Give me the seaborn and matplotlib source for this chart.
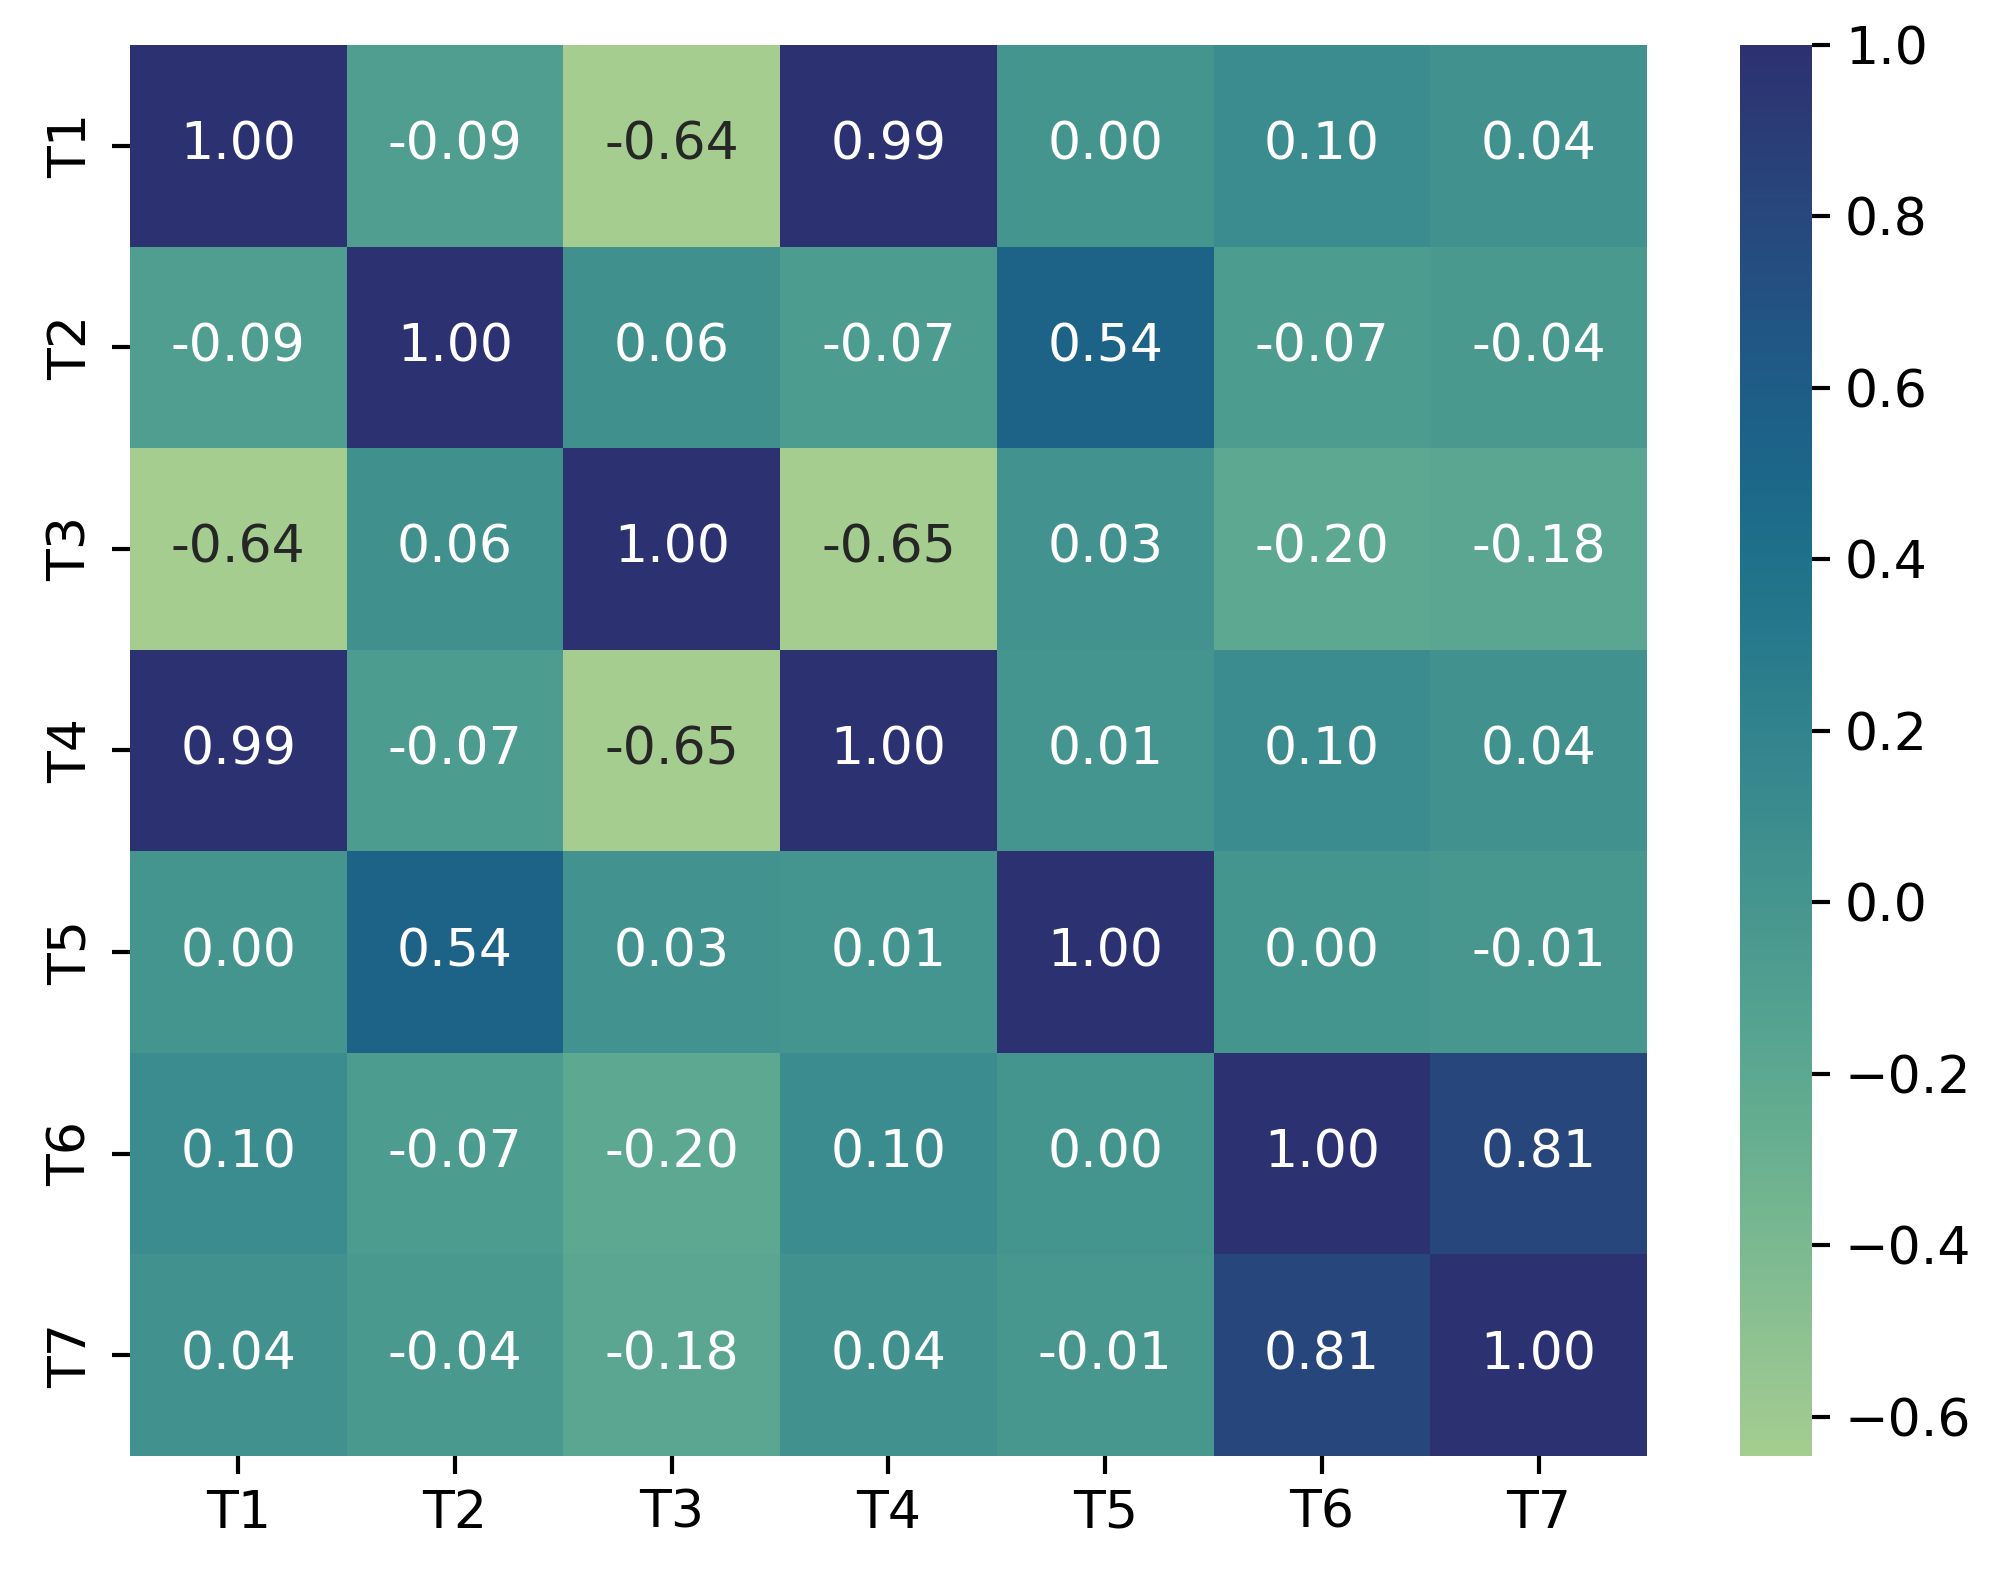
import matplotlib
matplotlib.use("Agg")
import matplotlib.pyplot as plt
import seaborn as sns
import pandas as pd

labels = ["T1", "T2", "T3", "T4", "T5", "T6", "T7"]
row_t1 = [1.00, -0.09, -0.64, 0.99, 0.00, 0.10, 0.04]
row_t2 = [-0.09, 1.00, 0.06, -0.07, 0.54, -0.07, -0.04]
row_t3 = [-0.64, 0.06, 1.00, -0.646, 0.03, -0.20, -0.18]
row_t4 = [0.99, -0.07, -0.646, 1.00, 0.01, 0.10, 0.04]
row_t5 = [0.00, 0.54, 0.03, 0.01, 1.00, 0.00, -0.01]
row_t6 = [0.10, -0.07, -0.20, 0.10, 0.00, 1.00, 0.81]
row_t7 = [0.04, -0.04, -0.18, 0.04, -0.01, 0.81, 1.00]

corr = pd.DataFrame([row_t1, row_t2, row_t3, row_t4, row_t5, row_t6, row_t7],
                    index=labels, columns=labels)

fs = 12.5
plt.rcParams['font.size'] = fs
plt.rcParams['xtick.major.size'] = 4.4
plt.rcParams['ytick.major.size'] = 4.4
plt.rcParams['xtick.major.width'] = 1.0
plt.rcParams['ytick.major.width'] = 1.0

W, H = 2007, 1586
fig = plt.figure(figsize=(W / 300, H / 300), dpi=300)
ax = fig.add_axes([130 / W, 1 - 1456 / H, (1647 - 130) / W, (1456 - 45) / H])
cax = fig.add_axes([1740 / W, 1 - 1456 / H, (1812 - 1740) / W, (1456 - 45) / H])

sns.heatmap(corr, annot=True, fmt=".2f", cmap="crest", ax=ax, cbar_ax=cax,
            annot_kws={"size": fs})
ax.tick_params(labelsize=fs)
cax.tick_params(labelsize=fs)
cax.set_yticks([-0.6, -0.4, -0.2, 0.0, 0.2, 0.4, 0.6, 0.8, 1.0])

fig.savefig("out.png", dpi=300)
